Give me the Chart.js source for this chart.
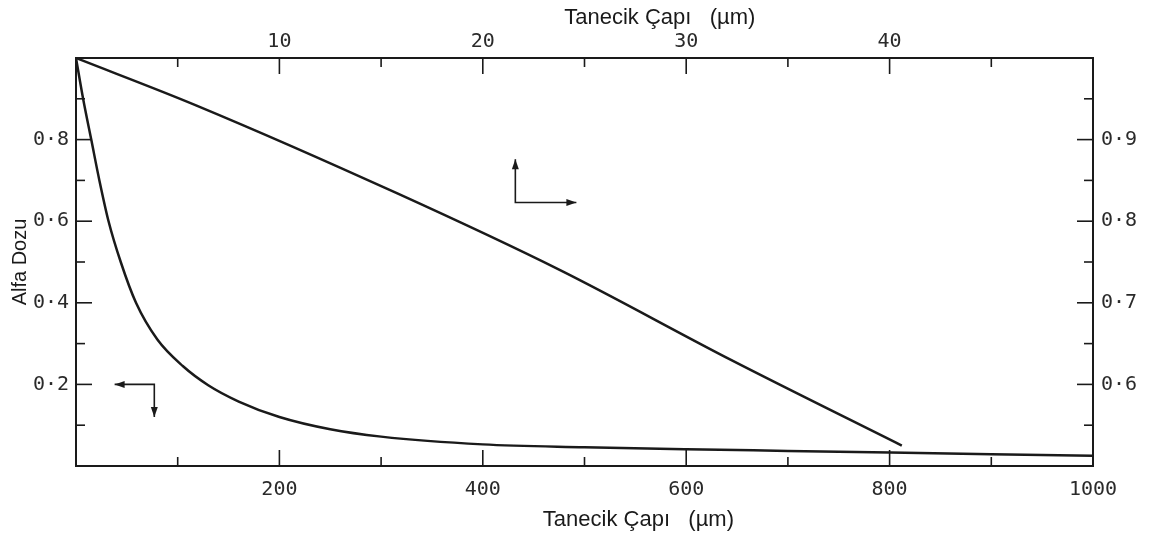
<!DOCTYPE html>
<html>
<head>
<meta charset="utf-8">
<title>Alfa Dozu - Tanecik Çapı</title>
<script src="https://cdn.jsdelivr.net/npm/chart.js@4.4.1/dist/chart.umd.min.js"></script>
<style>
  html, body { margin: 0; padding: 0; background: #fff; }
  #grafik { display: block; }
</style>
</head>
<body>
<canvas id="grafik" width="1157" height="538"></canvas>
<script>
// Eğri 1: alt eksen (µm) ve sol eksen
const capAlt = [0, 7, 15, 23, 32, 44, 59, 80, 105, 130, 160, 200, 250, 300, 400, 500, 600, 700, 800, 900, 1000];
const dozAlt = [1.0, 0.9, 0.8, 0.7, 0.6, 0.5, 0.4, 0.31, 0.245, 0.198, 0.158, 0.12, 0.09, 0.072, 0.053, 0.046, 0.041, 0.037, 0.033, 0.029, 0.025];

// Eğri 2: üst eksen (µm) ve sağ eksen
const capUst = [0, 5.9, 15.8, 23.8, 32.2, 40.6];
const dozUst = [1.0, 0.942, 0.834, 0.740, 0.630, 0.525];

// Etiketli tik değerleri
const altEtiketler = [200, 400, 600, 800, 1000];
const ustEtiketler = [10, 20, 30, 40];
const solEtiketler = [0.2, 0.4, 0.6, 0.8];
const sagEtiketler = [0.6, 0.7, 0.8, 0.9];

// Hangi eğrinin hangi eksene ait olduğunu gösteren oklar (veri koordinatında)
const okAltSol = { x: [38, 77, 77], y: [0.2, 0.2, 0.12] };
const okUstSag = { x: [21.6, 21.6, 24.6], y: [0.876, 0.823, 0.823] };

const eksenYazi = 'Tanecik Çapı   (µm)';
const RENK = '#1a1a1a';
const tikFont = { family: 'DejaVu Sans Mono', size: 20 };

const etiketli = (liste, v) => liste.some(e => Math.abs(e - v) < 1e-6);
const bicim = v => String(Math.round(v * 100) / 100).replace('.', '·');

function noktalar(xs, ys) {
  return xs.map((x, i) => ({ x: x, y: ys[i] }));
}

// Tikler içe doğru çiziliyor
const tikCiz = {
  id: 'tikCiz',
  afterDraw(chart) {
    const ctx = chart.ctx;
    const a = chart.chartArea;
    const kenarlar = [
      ['x', altEtiketler, (p, L) => [p, a.bottom, p, a.bottom - L]],
      ['x2', ustEtiketler, (p, L) => [p, a.top, p, a.top + L]],
      ['y', solEtiketler, (p, L) => [a.left, p, a.left + L, p]],
      ['y2', sagEtiketler, (p, L) => [a.right, p, a.right - L, p]]
    ];
    ctx.save();
    ctx.strokeStyle = RENK;
    ctx.lineWidth = 1.6;
    for (const [id, buyuk, parca] of kenarlar) {
      const s = chart.scales[id];
      for (const t of s.ticks) {
        if (t.value <= s.min + 1e-9 || t.value >= s.max - 1e-9) continue;
        const L = etiketli(buyuk, t.value) ? 16 : 9;
        const [x1, y1, x2, y2] = parca(s.getPixelForValue(t.value), L);
        ctx.beginPath();
        ctx.moveTo(x1, y1);
        ctx.lineTo(x2, y2);
        ctx.stroke();
      }
    }
    ctx.restore();
  }
};

function okUcu(ctx, x1, y1, x2, y2) {
  const aci = Math.atan2(y2 - y1, x2 - x1);
  const L = 10, W = 3.5;
  const c = Math.cos(aci), s = Math.sin(aci);
  ctx.beginPath();
  ctx.moveTo(x2, y2);
  ctx.lineTo(x2 - L * c + W * s, y2 - L * s - W * c);
  ctx.lineTo(x2 - L * c - W * s, y2 - L * s + W * c);
  ctx.closePath();
  ctx.fill();
}

const oklar = {
  id: 'oklar',
  afterDraw(chart) {
    const ctx = chart.ctx;
    const ciz = (ok, xid, yid) => {
      const sx = chart.scales[xid], sy = chart.scales[yid];
      const p = ok.x.map((x, i) => [sx.getPixelForValue(x), sy.getPixelForValue(ok.y[i])]);
      ctx.beginPath();
      ctx.moveTo(p[0][0], p[0][1]);
      for (let i = 1; i < p.length; i++) ctx.lineTo(p[i][0], p[i][1]);
      ctx.stroke();
      okUcu(ctx, p[1][0], p[1][1], p[0][0], p[0][1]);
      const n = p.length - 1;
      okUcu(ctx, p[n - 1][0], p[n - 1][1], p[n][0], p[n][1]);
    };
    ctx.save();
    ctx.strokeStyle = RENK;
    ctx.fillStyle = RENK;
    ctx.lineWidth = 1.6;
    ciz(okAltSol, 'x', 'y');
    ciz(okUstSag, 'x2', 'y2');
    ctx.restore();
  }
};

// Üst ve alt eksen başlıkları (ortadan biraz sağda)
const basliklar = {
  id: 'basliklar',
  afterDraw(chart) {
    const ctx = chart.ctx;
    ctx.save();
    ctx.fillStyle = RENK;
    ctx.font = '22px "Liberation Sans", Arial, sans-serif';
    ctx.textAlign = 'center';
    ctx.textBaseline = 'middle';
    ctx.fillText(eksenYazi, chart.scales.x2.getPixelForValue(28.7), 18);
    ctx.fillText(eksenYazi, chart.scales.x.getPixelForValue(553), chart.height - 18);
    ctx.restore();
  }
};

function eksen(konum, min, max, adim, etiketler, dolgu) {
  return {
    type: 'linear',
    position: konum,
    min: min,
    max: max,
    grid: { display: false, drawTicks: false },
    border: { display: true, color: RENK, width: 2 },
    ticks: {
      stepSize: adim,
      autoSkip: false,
      maxRotation: 0,
      padding: dolgu,
      color: '#2a2a2a',
      font: tikFont,
      callback: v => etiketli(etiketler, v) ? bicim(v) : ''
    }
  };
}

const olcekler = {
  x: eksen('bottom', 0, 1000, 100, altEtiketler, 12),
  x2: eksen('top', 0, 50, 5, ustEtiketler, 4),
  y: eksen('left', 0, 1, 0.1, solEtiketler, 7),
  y2: eksen('right', 0.5, 1, 0.05, sagEtiketler, 8)
};
olcekler.x.afterFit = s => { s.height = 72; };
olcekler.x2.afterFit = s => { s.height = 58; };
olcekler.y.afterFit = s => { s.width = 76; };
olcekler.y2.afterFit = s => { s.width = 64; };
olcekler.y.title = {
  display: true,
  text: 'Alfa Dozu',
  color: RENK,
  font: { family: 'Liberation Sans', size: 20 },
  padding: { top: 8, bottom: 0 }
};

new Chart(document.getElementById('grafik'), {
  type: 'scatter',
  data: {
    datasets: [
      {
        label: 'Alt / sol',
        data: noktalar(capAlt, dozAlt),
        xAxisID: 'x',
        yAxisID: 'y',
        showLine: true,
        borderColor: RENK,
        borderWidth: 2.5,
        pointRadius: 0,
        cubicInterpolationMode: 'monotone'
      },
      {
        label: 'Üst / sağ',
        data: noktalar(capUst, dozUst),
        xAxisID: 'x2',
        yAxisID: 'y2',
        showLine: true,
        borderColor: RENK,
        borderWidth: 2.5,
        pointRadius: 0,
        cubicInterpolationMode: 'monotone'
      }
    ]
  },
  options: {
    responsive: false,
    animation: false,
    devicePixelRatio: 1,
    layout: { padding: 0 },
    plugins: { legend: { display: false }, tooltip: { enabled: false } },
    scales: olcekler
  },
  plugins: [tikCiz, oklar, basliklar]
});
</script>
</body>
</html>
